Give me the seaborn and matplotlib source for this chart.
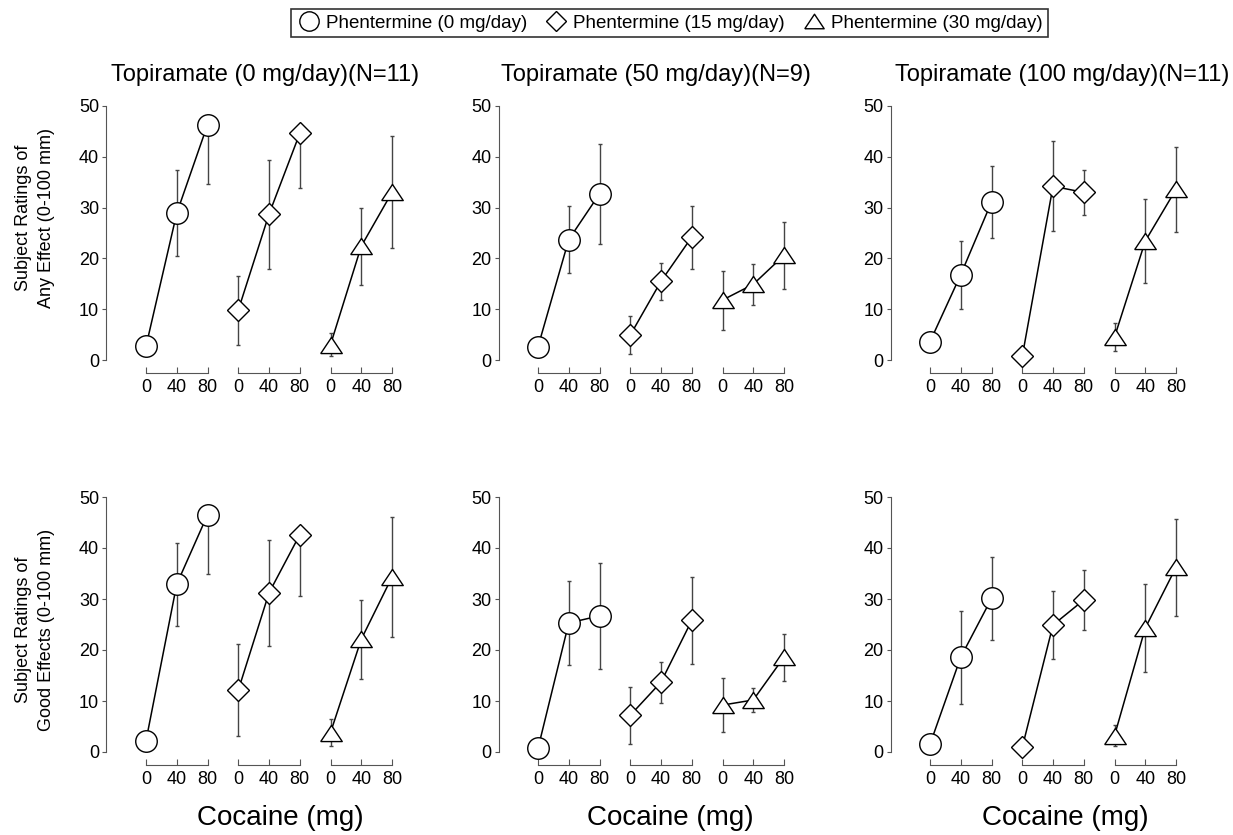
import numpy as np
import pandas as pd
import seaborn as sns
import matplotlib.pyplot as plt
from matplotlib.lines import Line2D


doses = [0, 40, 80]
phentermine = ['Phentermine (0 mg/day)', 'Phentermine (15 mg/day)', 'Phentermine (30 mg/day)']
topiramate = ['Topiramate (0 mg/day)(N=11)', 'Topiramate (50 mg/day)(N=9)', 'Topiramate (100 mg/day)(N=11)']
measures = ['Subject Ratings of\nAny Effect (0-100 mm)', 'Subject Ratings of\nGood Effects (0-100 mm)']

# [topiramate][phentermine][cocaine dose]
any_mean = [
    [[2.7, 28.9, 46.3], [9.8, 28.7, 44.6], [3.0, 22.4, 33.0]],
    [[2.6, 23.7, 32.7], [4.9, 15.5, 24.2], [11.8, 14.9, 20.6]],
    [[3.6, 16.8, 31.1], [0.7, 34.2, 33.0], [4.5, 23.4, 33.6]],
]
any_sem = [
    [[1.0, 8.5, 11.7], [6.8, 10.7, 10.7], [2.3, 7.6, 11.0]],
    [[1.0, 6.6, 9.8], [3.8, 3.6, 6.2], [5.8, 4.0, 6.6]],
    [[1.0, 6.7, 7.0], [0.5, 8.9, 4.4], [2.8, 8.2, 8.4]],
]
good_mean = [
    [[2.2, 32.9, 46.5], [12.1, 31.2, 42.6], [3.8, 22.1, 34.3]],
    [[0.7, 25.3, 26.7], [7.2, 13.7, 25.8], [9.2, 10.2, 18.6]],
    [[1.5, 18.6, 30.1], [0.9, 24.9, 29.8], [3.2, 24.3, 36.2]],
]
good_sem = [
    [[1.0, 8.1, 11.5], [9.0, 10.4, 12.0], [2.6, 7.7, 11.7]],
    [[1.0, 8.3, 10.4], [5.6, 4.0, 8.5], [5.3, 2.4, 4.6]],
    [[1.0, 9.1, 8.1], [0.5, 6.7, 5.8], [2.0, 8.6, 9.5]],
]

# flat open triangle like the original
tri = [(-1, -0.75), (1, -0.75), (0, 0.75), (-1, -0.75)]
markers = ['o', 'D', tri]
msizes = [15.5, 11, 15.5]

sns.set_style('ticks')
plt.rcParams['font.family'] = ['Liberation Sans', 'DejaVu Sans']
plt.rcParams['text.color'] = 'black'
plt.rcParams['xtick.labelcolor'] = 'black'
plt.rcParams['ytick.labelcolor'] = 'black'

W, H = 1233, 835
fig = plt.figure(figsize=(W / 100, H / 100), dpi=100)

ppu = 246 / 320.0
sub_w = 120 * ppu
first_zero = [146, 538, 930]
spine_x = [106, 498.5, 890.5]
row_top = [106, 497]
row_bot = [360, 752]

for r, (means, sems) in enumerate([(any_mean, any_sem), (good_mean, good_sem)]):
    for c in range(3):
        for g in range(3):
            left = first_zero[c] - 20 * ppu + g * sub_w
            ax = fig.add_axes([left / W, 1 - row_bot[r] / H, sub_w / W, (row_bot[r] - row_top[r]) / H])
            ax.patch.set_alpha(0)

            df = pd.DataFrame({'dose': doses, 'rating': means[c][g], 'err': sems[c][g]})
            upper = np.where(df['rating'] + df['err'] > 50, 0, df['err'])
            ax.errorbar(df['dose'], df['rating'], yerr=[df['err'], upper], fmt='none',
                        ecolor='#444444', elinewidth=1, capsize=1.6, capthick=1,
                        zorder=1, clip_on=False)
            sns.lineplot(data=df, x='dose', y='rating', ax=ax, color='black', lw=1.1,
                         marker=markers[g], markersize=msizes[g], markerfacecolor='white',
                         markeredgecolor='black', markeredgewidth=1.0,
                         errorbar=None, zorder=3, clip_on=False)

            ax.set_xlim(-20, 100)
            ax.set_ylim(0, 50)
            ax.set_xlabel('')
            ax.set_ylabel('')
            ax.set_xticks(doses)
            ax.spines['top'].set_visible(False)
            ax.spines['right'].set_visible(False)
            ax.spines['bottom'].set_position(('outward', 9))
            ax.spines['bottom'].set_bounds(0, 80)
            ax.spines['bottom'].set_color('#555555')
            ax.tick_params(axis='x', direction='in', length=4, color='#555555', pad=5,
                           labelsize=13)
            if g == 0:
                ax.spines['left'].set_position(('axes', -(left - spine_x[c]) / sub_w))
                ax.spines['left'].set_color('#555555')
                ax.set_yticks([0, 10, 20, 30, 40, 50])
                ax.tick_params(axis='y', direction='out', length=3, color='#555555',
                               labelsize=13, pad=2)
            else:
                ax.spines['left'].set_visible(False)
                ax.set_yticks([])

# titles, axis labels
title_x = [265, 656, 1062]
cocaine_x = [280, 670, 1065]
for c in range(3):
    fig.text(title_x[c] / W, 1 - 75 / H, topiramate[c], ha='center', va='center', fontsize=17)
    fig.text(cocaine_x[c] / W, 1 - 818 / H, 'Cocaine (mg)', ha='center', va='center', fontsize=20)

label_y = [218, 630]
for r in range(2):
    fig.text(35 / W, 1 - label_y[r] / H, measures[r], rotation=90, ha='center', va='center',
             fontsize=13, linespacing=1.4)

handles = [Line2D([], [], ls='none', marker=markers[i], markersize=msizes[i] * 0.9,
                  markerfacecolor='white', markeredgecolor='black', markeredgewidth=1.0)
           for i in range(3)]
leg = fig.legend(handles, phentermine, ncol=3, loc='center', bbox_to_anchor=(669.5 / W, 1 - 23 / H),
                 frameon=True, fancybox=False, edgecolor='black', fontsize=13.5,
                 handletextpad=0.25, columnspacing=0.9, borderpad=0.3, handlelength=1.3)
leg.get_frame().set_linewidth(1.2)

fig.savefig('out.png', dpi=100)
